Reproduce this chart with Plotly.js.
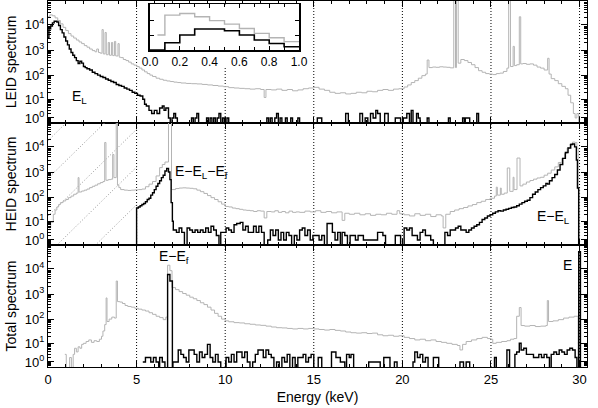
<!DOCTYPE html>
<html>
<head>
<meta charset="utf-8">
<script src="https://cdn.plot.ly/plotly-3.0.1.min.js"></script>
<style>html,body{margin:0;padding:0;background:#fff}#chart{width:598px;height:408px}</style>
</head>
<body>
<div id="chart"></div>
<script>
// spectra: [bin start energy (keV), counts]
const leidGray = [[0,21000],[0.1,25000],[0.25,23000],[0.4,19000],[0.55,15000],[0.7,11000],[0.85,8000],[1.0,6000],[1.15,4500],[1.3,3600],[1.45,3000],[1.6,2500],[1.75,2100],[1.9,1800],[2.05,1500],[2.2,1300],[2.35,1100],[2.5,950],[2.65,850],[2.75,1100],[2.85,800],[2.95,750],[3.05,6500],[3.12,700],[3.22,5000],[3.29,650],[3.4,2000],[3.47,620],[3.58,2000],[3.65,600],[3.75,2200],[3.82,580],[3.95,1800],[4.02,520],[4.1,500],[4.25,420],[4.4,380],[4.55,330],[4.7,280],[4.85,250],[5.0,220],[5.15,190],[5.3,160],[5.45,135],[5.6,115],[5.75,100],[5.9,88],[6.1,75],[6.3,68],[6.5,62],[6.7,58],[6.9,55],[7.1,52],[7.3,50],[7.5,48],[7.8,46],[8.1,45],[8.4,44],[8.7,42],[9.0,40],[9.3,38],[9.6,36],[9.9,34],[10.2,31],[10.5,30],[10.8,29],[11.1,28],[11.4,27],[11.7,28],[12.0,26],[12.2,12],[12.3,26],[12.6,25],[12.9,27],[13.2,24],[13.5,26],[13.8,23],[14.1,25],[14.4,28],[14.7,30],[15.0,32],[15.3,27],[15.6,24],[15.9,20],[16.2,18],[16.5,19],[16.8,17],[17.1,18],[17.4,20],[17.7,19],[18.0,22],[18.3,21],[18.6,24],[18.9,26],[19.2,24],[19.5,27],[19.8,28],[20.1,33],[20.3,40],[20.5,50],[20.7,60],[20.9,75],[21.1,95],[21.3,110],[21.4,400],[21.5,200],[21.7,210],[21.9,205],[22.1,215],[22.3,210],[22.5,205],[22.7,195],[22.9,150000],[23.0,200],[23.05,150000],[23.15,300],[23.3,420],[23.5,380],[23.7,320],[23.9,260],[24.1,200],[24.3,150],[24.5,130],[24.7,115],[24.9,110],[25.1,105],[25.3,115],[25.5,120],[25.7,140],[25.9,190],[26.0,150000],[26.1,220],[26.25,1400],[26.32,240],[26.45,260],[26.6,21000],[26.68,280],[26.8,290],[27.0,270],[27.2,280],[27.4,250],[27.6,210],[27.8,190],[28.0,160],[28.2,470],[28.28,110],[28.4,72],[28.6,60],[28.8,45],[29.0,35],[29.2,28],[29.35,15],[29.5,7],[29.65,2],[29.75,1],[29.85,2],[29.95,0]];

const leidBlack = [[0,3000],[0.05,7000],[0.15,9000],[0.25,12000],[0.35,14000],[0.5,13000],[0.6,9500],[0.7,6500],[0.8,4800],[0.9,3300],[1.0,2300],[1.1,1600],[1.2,1100],[1.3,800],[1.4,620],[1.5,500],[1.6,380],[1.7,290],[1.8,360],[1.9,300],[2.0,220],[2.1,200],[2.2,180],[2.35,160],[2.5,130],[2.65,115],[2.8,100],[2.95,88],[3.1,80],[3.25,70],[3.4,62],[3.55,55],[3.7,50],[3.85,42],[4.0,38],[4.15,35],[4.3,30],[4.45,27],[4.6,24],[4.75,20],[4.9,18],[5.05,15],[5.2,14],[5.35,10],[5.45,6],[5.55,5],[5.7,3],[5.85,2],[6.0,3],[6.15,2],[6.3,4],[6.45,5],[6.55,3],[6.65,4],[6.8,1],[6.9,0],[7.0,1],[7.1,2],[7.2,1],[7.3,0],[8.1,1],[8.2,0],[8.3,1],[8.4,2],[8.5,0],[8.95,1],[9.05,0],[9.15,1],[9.25,0],[9.35,1],[9.45,0],[9.55,1],[9.65,2],[9.75,0],[9.85,1],[9.95,0],[10.1,1],[10.2,0],[12.35,1],[12.45,0],[12.55,1],[12.65,0],[12.8,1],[12.9,2],[13.0,0],[13.1,1],[13.2,0],[13.4,1],[13.5,0],[13.7,1],[13.8,0],[14.1,1],[14.2,0],[15.2,1],[15.45,0],[16.8,2],[16.95,0],[17.6,2],[17.75,0],[17.9,1],[18.05,0],[18.2,2],[18.35,1],[18.5,3],[18.6,2],[18.75,0],[19.0,2],[19.2,0],[19.6,1],[19.9,0],[20.05,1],[20.25,2],[20.4,0],[20.5,3],[20.6,0],[20.8,2],[20.9,1],[21.0,0],[21.4,1],[21.5,0],[22.6,1],[22.7,0],[23.4,1],[23.5,0],[23.55,1],[23.8,0],[24.2,2],[24.3,0]];

const heidGray = [[0.05,5],[0.15,9],[0.3,20],[0.4,30],[0.5,40],[0.6,50],[0.7,60],[0.85,70],[1.0,80],[1.15,95],[1.3,110],[1.45,130],[1.6,145],[1.7,600],[1.75,160],[1.9,175],[2.05,190],[2.2,210],[2.35,240],[2.5,270],[2.65,300],[2.8,340],[2.95,380],[3.1,420],[3.2,15000],[3.27,470],[3.4,500],[3.55,520],[3.65,5000],[3.72,600],[3.85,90000],[3.92,300],[4.0,240],[4.1,200],[4.3,190],[4.5,185],[4.7,190],[4.9,195],[5.1,200],[5.3,210],[5.5,260],[5.7,330],[5.9,420],[6.1,700],[6.3,1500],[6.45,2000],[6.6,2500],[6.8,100000],[6.97,200],[7.2,220],[7.4,230],[7.6,235],[7.8,230],[8.0,225],[8.2,215],[8.4,190],[8.6,165],[8.8,140],[9.0,115],[9.2,95],[9.4,80],[9.6,65],[9.8,52],[10.0,42],[10.2,40],[10.4,36],[10.6,34],[10.8,32],[11.0,30],[11.2,29],[11.4,28],[11.6,26],[11.8,28],[12.0,27],[12.2,14],[12.35,26],[12.6,25],[12.8,28],[13.0,24],[13.2,26],[13.4,23],[13.6,27],[13.8,24],[14.0,25],[14.2,24],[14.5,27],[14.8,25],[15.1,28],[15.4,24],[15.7,26],[16.0,23],[16.3,25],[16.6,11],[16.75,22],[17.0,20],[17.3,22],[17.6,19],[17.9,21],[18.2,18],[18.5,20],[18.8,19],[19.1,22],[19.4,20],[19.7,28],[19.85,21],[20.1,19],[20.4,17],[20.7,21],[21.0,18],[21.3,20],[21.6,16],[21.9,19],[22.2,17],[22.3,5],[22.45,20],[22.7,26],[22.95,30],[23.2,34],[23.45,38],[23.7,44],[23.95,50],[24.2,60],[24.45,68],[24.7,80],[24.95,90],[25.2,110],[25.3,250],[25.36,120],[25.53,230],[25.58,130],[25.75,145],[25.92,1450],[26.06,170],[26.25,620],[26.3,200],[26.47,3600],[26.64,280],[26.8,330],[27.0,400],[27.2,460],[27.4,520],[27.6,580],[27.8,620],[28.0,750],[28.2,900],[28.4,1200],[28.6,1600],[28.8,2400],[29.0,3500],[29.15,5500],[29.3,9000],[29.45,13000],[29.6,15500],[29.75,15000],[29.85,9000],[29.92,200],[29.97,0]];

const heidBlack = [[0,0],[5.0,36],[5.1,40],[5.2,45],[5.3,50],[5.4,55],[5.5,65],[5.6,80],[5.7,90],[5.8,120],[5.9,150],[6.0,200],[6.1,270],[6.2,350],[6.3,450],[6.4,600],[6.5,750],[6.6,1100],[6.7,1400],[6.8,1000],[6.88,500],[6.95,60],[7.02,10],[7.07,4],[7.25,3],[7.4,5],[7.55,3],[7.7,0],[7.85,5],[8.0,4],[8.15,3],[8.3,4],[8.45,3],[8.6,4],[8.75,3],[8.9,5],[9.05,3],[9.2,6],[9.35,4],[9.5,2],[9.65,0],[9.75,3],[9.9,3],[10.05,5],[10.2,4],[10.35,3],[10.5,7],[10.65,8],[10.85,9],[11.0,4],[11.15,6],[11.3,3],[11.45,3],[11.6,6],[11.75,3],[11.9,6],[12.05,3],[12.2,0],[12.4,1],[12.55,4],[12.7,2],[12.85,4],[13.0,1],[13.15,3],[13.3,1],[13.45,3],[13.6,2],[13.75,0],[13.9,2],[14.05,1],[14.2,4],[14.35,5],[14.5,2],[14.65,4],[14.8,1],[14.95,2],[15.1,2],[15.3,1],[15.45,2],[15.6,0],[15.75,8],[15.9,8],[16.05,3],[16.2,1],[16.35,3],[16.5,0],[16.6,3],[16.75,2],[16.9,0],[17.05,2],[17.2,2],[17.35,1],[17.5,2],[17.65,2],[17.8,1],[18.0,1],[18.15,1],[18.3,1],[18.45,1],[18.6,3],[18.75,3],[18.9,2],[19.05,0],[19.6,2],[19.75,2],[19.9,0],[20.1,5],[20.25,4],[20.4,5],[20.55,2],[20.7,2],[20.85,1],[21.0,3],[21.15,4],[21.3,2],[21.45,2],[21.6,1],[21.75,0],[22.4,3],[22.55,2],[22.7,4],[22.85,4],[23.0,5],[23.15,6],[23.3,4],[23.45,4],[23.6,3],[23.75,4],[23.9,5],[24.05,6],[24.2,7],[24.35,9],[24.5,12],[24.65,14],[24.8,17],[24.95,19],[25.1,22],[25.25,25],[25.4,28],[25.55,27],[25.7,30],[25.85,32],[26.0,35],[26.15,38],[26.3,40],[26.45,45],[26.6,52],[26.75,60],[26.9,68],[27.05,75],[27.2,95],[27.35,130],[27.5,160],[27.65,200],[27.8,240],[27.95,280],[28.1,350],[28.2,330],[28.3,450],[28.45,600],[28.6,800],[28.75,1200],[28.9,2000],[29.05,3500],[29.2,6000],[29.35,9000],[29.5,12500],[29.6,13000],[29.72,10000],[29.82,3000],[29.88,230],[29.95,0]];

const totalGray = [[0.95,3],[1.03,0],[1.22,2],[1.32,0],[1.42,3],[1.5,6],[1.6,4],[1.7,7],[1.8,6],[1.9,9],[2.0,10],[2.15,12],[2.3,14],[2.45,11],[2.6,13],[2.75,12],[2.9,15],[3.02,20],[3.1,33],[3.2,60],[3.28,700],[3.33,80],[3.45,100],[3.6,120],[3.75,110],[3.85,3300],[3.92,500],[4.05,480],[4.2,420],[4.35,350],[4.5,320],[4.7,300],[4.9,270],[5.1,250],[5.3,230],[5.5,210],[5.7,180],[5.9,155],[6.1,130],[6.3,115],[6.5,95],[6.65,120],[6.75,14000],[6.88,8500],[7.0,1800],[7.2,1500],[7.4,1250],[7.6,1050],[7.8,900],[8.0,750],[8.2,650],[8.4,550],[8.6,450],[8.8,380],[9.0,300],[9.2,230],[9.4,170],[9.6,130],[9.8,100],[10.0,85],[10.2,78],[10.5,72],[10.8,70],[11.1,65],[11.4,62],[11.7,58],[12.0,56],[12.3,52],[12.6,48],[12.9,45],[13.2,44],[13.5,42],[13.8,40],[14.1,42],[14.4,40],[14.7,42],[15.0,40],[15.3,38],[15.6,36],[15.9,38],[16.2,35],[16.5,33],[16.8,30],[17.1,28],[17.4,27],[17.7,28],[18.0,26],[18.3,27],[18.6,23],[18.9,21],[19.2,22],[19.5,20],[19.8,21],[20.1,18],[20.4,16],[20.7,14],[21.0,15],[21.3,13],[21.6,14],[21.9,12],[22.2,11],[22.5,10],[22.8,9],[23.1,8],[23.25,5],[23.4,9],[23.6,12],[23.9,14],[24.2,16],[24.5,18],[24.8,16],[25.0,15],[25.1,10],[25.3,11],[25.6,12],[25.9,13],[26.1,15],[26.3,16],[26.45,130],[26.6,290],[26.7,55],[26.9,52],[27.2,55],[27.5,50],[27.8,52],[28.1,55],[28.18,550],[28.25,80],[28.5,85],[28.8,95],[29.1,110],[29.4,120],[29.7,130],[29.92,0]];

const totalBlack = [[5.35,1],[5.5,2],[5.65,2],[5.8,1],[5.95,2],[6.1,1],[6.25,0],[6.3,2],[6.45,1],[6.6,0],[6.75,6000],[6.88,3300],[7.02,0],[7.05,1],[7.2,1],[7.35,5],[7.5,3],[7.65,2],[7.8,1],[7.95,5],[8.1,5],[8.25,3],[8.4,1],[8.55,4],[8.7,2],[8.85,3],[9.0,9],[9.15,2],[9.3,1],[9.45,3],[9.6,1],[9.75,0],[10.05,2],[10.2,1],[10.35,3],[10.5,1],[10.65,4],[10.8,4],[10.95,2],[11.1,4],[11.25,1],[11.4,0],[11.55,1],[11.7,3],[11.85,5],[12.0,5],[12.15,2],[12.3,5],[12.45,3],[12.6,2],[12.75,0],[12.9,1],[13.05,0],[13.2,2],[13.35,1],[13.5,3],[13.65,0],[13.8,2],[13.95,0],[14.1,2],[14.25,2],[14.4,3],[14.55,1],[14.7,2],[14.85,3],[15.0,0],[15.25,2],[15.45,0],[16.0,4],[16.25,2],[16.5,1],[16.75,0],[16.85,3],[17.0,2],[17.1,3],[17.25,0],[18.1,1],[18.75,0],[18.95,2],[19.3,0],[19.55,1],[19.7,0],[20.6,1],[20.7,4],[20.85,2],[21.0,3],[21.15,1],[21.3,2],[21.45,0],[21.75,2],[22.05,0],[23.25,1],[23.45,0],[23.6,1],[23.8,0],[25.2,2],[25.3,0],[25.9,5],[26.05,0],[26.35,3],[26.45,4],[26.6,10],[26.7,5],[26.85,6],[27.0,3],[27.2,3],[27.4,2],[27.55,2],[27.7,3],[27.85,2],[28.0,3],[28.15,2],[28.3,0],[28.4,3],[28.55,4],[28.7,3],[28.85,5],[29.0,4],[29.15,3],[29.3,5],[29.45,6],[29.6,5],[29.75,2],[29.85,0],[29.95,48000],[30.05,0]];

// inset: fraction bins 0..1
const insetEdges = [0, 0.1, 0.2, 0.3, 0.4, 0.5, 0.6, 0.7, 0.8, 0.9, 1.0];
const insetGray  = [1.0, 2.33, 2.44, 2.22, 1.96, 1.73, 1.44, 1.11, 0.82, 0.56];
const insetBlack = [0, 0.49, 1.0, 1.4, 1.4, 1.29, 1.0, 0.67, 0.44, 0.22];

// diagonal guide lines in HEID panel: log10 counts at 5 keV, slope in decades/keV
const guideAt5 = [7.7, 6.2, 4.7, 3.2, 1.7];
const guideSlope = 0.69;

const dottedE = [5, 10, 15, 20, 25, 30];
const yTickText = ['10<sup>0</sup>', '10<sup>1</sup>', '10<sup>2</sup>', '10<sup>3</sup>', '10<sup>4</sup>'];

const GRAY = '#b4b4b4';

function stepTrace(pairs, xa, ya, color, width) {
  return {
    x: pairs.map(p => p[0]),
    y: pairs.map(p => p[1] + 1), // counts+1 on log axis
    xaxis: xa, yaxis: ya, type: 'scatter', mode: 'lines',
    line: {shape: 'hv', color: color, width: width},
    hoverinfo: 'skip'
  };
}

let traces = [
  stepTrace(leidGray, 'x', 'y', GRAY, 1),
  stepTrace(leidBlack, 'x', 'y', '#000', 1.4),
  stepTrace(heidGray, 'x2', 'y2', GRAY, 1),
  stepTrace(heidBlack, 'x2', 'y2', '#000', 1.4),
  stepTrace(totalGray, 'x3', 'y3', GRAY, 1),
  stepTrace(totalBlack, 'x3', 'y3', '#000', 1.4)
];

guideAt5.forEach(a => {
  traces.unshift({
    x: [0, 5], y: [Math.pow(10, a - 5 * guideSlope), Math.pow(10, a)],
    xaxis: 'x2', yaxis: 'y2', type: 'scatter', mode: 'lines',
    line: {color: '#999', width: 1, dash: '1px,2px'}, hoverinfo: 'skip'
  });
});

traces.push({
  x: insetEdges.slice(0, -1).map((e, i) => i === 0 ? 0.05 : e).concat([1.0]),
  y: insetGray.concat([insetGray[insetGray.length - 1]]),
  xaxis: 'x4', yaxis: 'y4', type: 'scatter', mode: 'lines',
  line: {shape: 'hv', color: GRAY, width: 1.4}, hoverinfo: 'skip'
});
traces.push({
  x: insetEdges,
  y: insetBlack.concat([insetBlack[insetBlack.length - 1]]),
  xaxis: 'x4', yaxis: 'y4', type: 'scatter', mode: 'lines',
  line: {shape: 'hv', color: '#000', width: 1.6}, hoverinfo: 'skip'
});

// minor ticks of the log(1+counts) axis
let minorVals = [];
for (let k = -1; k <= 4; k++) {
  for (let n = 2; n <= 9; n++) minorVals.push(n * Math.pow(10, k) + 1);
}

const xBase = {
  range: [0, 30.42], showgrid: false, zeroline: false,
  showline: true, linecolor: '#000', linewidth: 1, mirror: 'ticks',
  ticks: 'inside', ticklen: 6, tickcolor: '#000', tick0: 0, dtick: 5,
  minor: {ticks: 'inside', dtick: 1, ticklen: 3, tickcolor: '#000'},
  tickfont: {size: 13}
};
const yBase = {
  type: 'log', range: [0.1, 4.95], showgrid: false, zeroline: false,
  showline: true, linecolor: '#000', linewidth: 1, mirror: 'ticks',
  ticks: 'inside', ticklen: 6, tickcolor: '#000',
  tickmode: 'array', tickvals: [2, 11, 101, 1001, 10001], ticktext: yTickText,
  minor: {ticks: 'inside', tickmode: 'array', tickvals: minorVals, ticklen: 3, tickcolor: '#000'},
  tickfont: {size: 13}
};

let shapes = [];
['', '2', '3'].forEach(p => {
  dottedE.forEach(e => {
    shapes.push({
      type: 'line', xref: 'x' + p, yref: 'y' + p + ' domain',
      x0: e, x1: e, y0: 0, y1: (p === '' && e === 10) ? 0.46 : 1,
      line: {color: '#000', width: 1, dash: '1px,2px'}, layer: 'below'
    });
  });
});

const annFont = {size: 14, color: '#000'};
const annotations = [
  {text: 'E<sub>L</sub>', x: 1.8, y: 1.13, xref: 'x', yref: 'y', showarrow: false, font: annFont},
  {text: 'E\u2212E<sub>L</sub>\u2212E<sub>f</sub>', x: 7.07, y: 3.0, xref: 'x2', yref: 'y2', xanchor: 'left', showarrow: false, font: annFont},
  {text: 'E\u2212E<sub>L</sub>', x: 27.5, y: 1.22, xref: 'x2', yref: 'y2', xanchor: 'left', showarrow: false, font: annFont},
  {text: 'E\u2212E<sub>f</sub>', x: 6.13, y: 4.48, xref: 'x3', yref: 'y3', xanchor: 'left', showarrow: false, font: annFont},
  {text: 'E', x: 29.3, y: 4.15, xref: 'x3', yref: 'y3', showarrow: false, font: annFont}
];

const layout = {
  width: 598, height: 408,
  margin: {l: 48, r: 11, t: 1, b: 41},
  paper_bgcolor: '#fff', plot_bgcolor: '#fff',
  showlegend: false,
  font: {family: 'Liberation Sans, Arial, sans-serif', size: 13, color: '#000'},
  xaxis: Object.assign({}, xBase, {anchor: 'y', showticklabels: false}),
  xaxis2: Object.assign({}, xBase, {anchor: 'y2', showticklabels: false}),
  xaxis3: Object.assign({}, xBase, {anchor: 'y3', title: {text: 'Energy (keV)', font: {size: 14}, standoff: 6}}),
  yaxis: Object.assign({}, yBase, {domain: [2/3, 1], anchor: 'x', title: {text: 'LEID spectrum', font: {size: 14}, standoff: 4}}),
  yaxis2: Object.assign({}, yBase, {domain: [1/3, 2/3], anchor: 'x2', title: {text: 'HEID spectrum', font: {size: 14}, standoff: 4}}),
  yaxis3: Object.assign({}, yBase, {domain: [0, 1/3], anchor: 'x3', title: {text: 'Total spectrum', font: {size: 14}, standoff: 4}}),
  xaxis4: {
    domain: [0.1892, 0.4657], anchor: 'y4', range: [0, 1],
    showgrid: false, zeroline: false, showline: true, linecolor: '#000', linewidth: 1.5, mirror: 'ticks',
    ticks: 'inside', ticklen: 4, tickcolor: '#000', tick0: 0, dtick: 0.2, tickformat: '.1f',
    minor: {ticks: 'inside', dtick: 0.1, ticklen: 3, tickcolor: '#000'},
    tickfont: {size: 12}
  },
  yaxis4: {
    domain: [0.866, 0.991], anchor: 'x4', range: [0, 3.05],
    showgrid: false, zeroline: false, showline: true, linecolor: '#000', linewidth: 1.5, mirror: 'ticks',
    ticks: 'inside', ticklen: 4, tickcolor: '#000', tickmode: 'array', tickvals: [1, 2],
    showticklabels: false
  },
  shapes: shapes,
  annotations: annotations
};

Plotly.newPlot('chart', traces, layout, {staticPlot: true});
</script>
</body>
</html>
